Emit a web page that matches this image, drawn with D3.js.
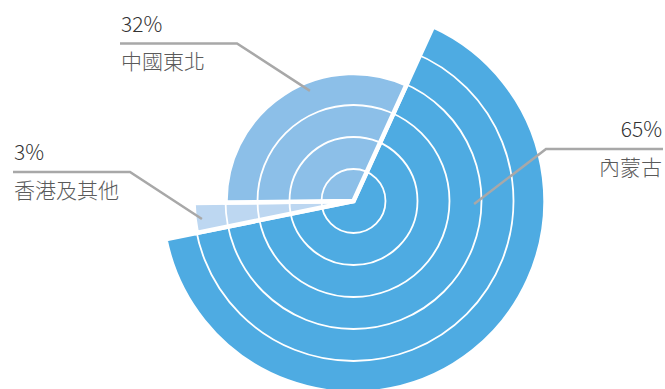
<!DOCTYPE html>
<html>
<head>
<meta charset="utf-8">
<script src="https://cdn.jsdelivr.net/npm/d3@7"></script>
<style>
  body { margin: 0; background: #fff; }
  text { font-family: "Noto Sans CJK TC", "Noto Sans", sans-serif; font-weight: 300; }
</style>
</head>
<body>
<div class="canvas"></div>
<script>
// data
const regions = ['內蒙古', '香港及其他', '中國東北']
const shares = [65, 3, 32]
// ring count each slice reaches out to
const ringReach = [6, 5, 4]
const ringTicks = [1, 2, 3, 4, 5]
const colors = ['#4eabe2', '#bdd7f1', '#8cbfe8']

const width = 665
const height = 389
const cx = 353.5
const cy = 201

const svg = d3.select('.canvas')
    .append('svg')
    .attr('width', width)
    .attr('height', height)

const graph = svg.append('g')
    .attr('transform', `translate(${cx}, ${cy})`)

// radius in ring units
const r = d3.scaleLinear()
    .domain([0, 6])
    .range([0, 192])

const startAngle = 24.5 * Math.PI / 180
const pie = d3.pie()
    .sort(null)
    .value(d => d)
    .startAngle(startAngle)
    .endAngle(startAngle + 2 * Math.PI)

const arcs = pie(shares)

const arc = d3.arc()
    .innerRadius(0)
    .outerRadius((d, i) => r(ringReach[i]))

graph.selectAll('path.slice')
    .data(arcs)
    .enter()
    .append('path')
    .attr('class', 'slice')
    .attr('d', (d, i) => arc(d, i))
    .attr('fill', (d, i) => colors[i])
    .attr('stroke', '#fff')
    .attr('stroke-width', 4.5)
    .attr('stroke-linejoin', 'miter')

// white rings over the slices
graph.selectAll('circle.ring')
    .data(ringTicks)
    .enter()
    .append('circle')
    .attr('class', 'ring')
    .attr('r', d => r(d))
    .attr('fill', 'none')
    .attr('stroke', '#fff')
    .attr('stroke-width', 1.8)

// label layout: where text sits and where the leader line points into the slice
const labelLayout = [
    {side: 'right', x: 663, lineY: 149, elbowX: 546, frac: 0.286, reach: 3.77},
    {side: 'left', x: 13, lineY: 172, elbowX: 130, frac: 0.44, reach: 4.77},
    {side: 'left', x: 120, lineY: 43.5, elbowX: 237, frac: 0.6, reach: 3.7}
]

const labels = svg.append('g')

arcs.forEach((d, i) => {
    const L = labelLayout[i]
    const a = d.startAngle + L.frac * (d.endAngle - d.startAngle)
    const p = d3.pointRadial(a, r(L.reach))
    const end = [cx + p[0], cy + p[1]]

    labels.append('polyline')
        .attr('points', [[L.x, L.lineY], [L.elbowX, L.lineY], end].map(q => q.join(',')).join(' '))
        .attr('fill', 'none')
        .attr('stroke', '#a8a8a8')
        .attr('stroke-width', 2.5)

    const anchor = L.side === 'right' ? 'end' : 'start'
    const tx = L.side === 'right' ? L.x - 1 : L.x + 1

    labels.append('text')
        .attr('x', tx)
        .attr('y', L.lineY - 12)
        .attr('text-anchor', anchor)
        .attr('font-size', 21)
        .attr('fill', '#333')
        .text(d.data + '%')

    labels.append('text')
        .attr('x', tx)
        .attr('y', L.lineY + 25.5)
        .attr('text-anchor', anchor)
        .attr('font-size', 21)
        .attr('fill', '#5a5a5a')
        .text(regions[i])
})
</script>
</body>
</html>
